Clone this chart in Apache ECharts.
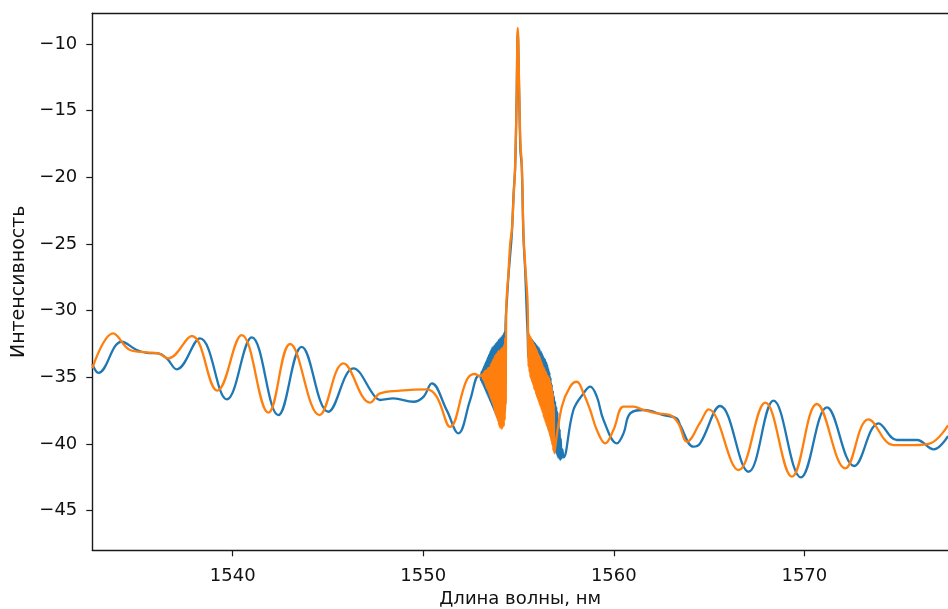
<!DOCTYPE html>
<html>
<head>
<meta charset="utf-8">
<script src="https://cdn.jsdelivr.net/npm/echarts@6/dist/echarts.min.js"></script>
<style>
html,body{margin:0;padding:0;background:#fff;}
#chart{width:948px;height:609px;}
</style>
</head>
<body>
<div id="chart"></div>
<script>
// ---- data ----
const xLabelText = 'Длина волны, нм';
const yLabelText = 'Интенсивность';
const xTicks = [1540, 1550, 1560, 1570];
const yTicks = [-45, -40, -35, -30, -25, -20, -15, -10];
const xRange = [1532.63, 1577.54];
const yRange = [-47.97, -7.70];

// blue trace: smooth parts [wavelength, intensity]
const blueSmooth = [
 [1532.63,-34.00],[1532.95,-34.66],[1534.17,-32.33],[1534.96,-32.95],[1535.49,-33.16],
 [1536.09,-33.20],[1536.54,-33.58],[1537.06,-34.40],[1538.28,-32.08],[1539.69,-36.65],
 [1541.00,-32.00],[1542.39,-37.83],[1543.62,-32.71],[1545.02,-37.58],[1546.33,-34.33],
 [1547.47,-36.46],[1547.73,-36.70],[1548.43,-36.58],[1549.48,-36.83],[1550.01,-36.46],
 [1550.45,-35.45],[1551.23,-37.46],[1551.84,-39.20],[1552.46,-36.70],[1552.90,-34.90],
 // central peak
 [1554.40,-29.0],[1554.47,-27.4],[1554.58,-25.5],[1554.65,-24.2],[1554.75,-21.0],
 [1554.82,-19.4],[1554.90,-14.0],[1554.96,-9.1],[1555.03,-13.5],[1555.10,-18.0],
 [1555.17,-19.2],[1555.26,-24.5],[1555.35,-27.0],[1555.44,-30.5],
 // after the peak
 [1557.88,-37.45],[1558.41,-36.20],[1558.76,-35.70],[1559.11,-36.45],[1559.46,-38.20],
 [1560.16,-39.95],[1560.51,-39.20],[1560.86,-37.70],[1561.56,-37.45],[1562.61,-37.83],
 [1563.31,-38.08],[1563.48,-38.58],[1564.18,-40.20],[1564.53,-39.95],[1565.58,-37.15],
 [1567.07,-42.08],[1568.38,-36.75],[1569.82,-42.50],[1571.19,-37.25],[1572.62,-41.65],
 [1573.90,-38.45],[1574.86,-39.70],[1575.91,-39.70],[1576.78,-40.40],[1577.54,-39.40]
];
// blue noisy band left of the peak
const blueNoiseLeft = [
 [1553.00,-34.9],[1553.03,-35.2],[1553.06,-34.6],[1553.09,-35.4],[1553.12,-34.4],
 [1553.15,-35.6],[1553.18,-34.2],[1553.21,-35.8],[1553.24,-34.0],[1553.27,-36.0],
 [1553.30,-33.8],[1553.33,-36.2],[1553.36,-33.6],[1553.39,-36.4],[1553.42,-33.4],
 [1553.45,-36.6],[1553.48,-33.2],[1553.51,-36.8],[1553.54,-33.0],[1553.57,-37.0],
 [1553.60,-32.8],[1553.63,-37.2],[1553.66,-32.7],[1553.69,-37.4],[1553.72,-32.6],
 [1553.75,-37.6],[1553.78,-32.5],[1553.81,-37.8],[1553.84,-32.4],[1553.87,-38.0],
 [1553.90,-32.3],[1553.93,-38.2],[1553.96,-32.2],[1553.99,-38.4],[1554.02,-32.1],
 [1554.05,-38.5],[1554.08,-32.0],[1554.11,-38.5],[1554.14,-31.9],[1554.17,-38.4],
 [1554.20,-31.8],[1554.23,-38.2],[1554.26,-31.6],[1554.29,-37.5],[1554.32,-31.0]
];
// blue noisy band right of the peak
const blueNoiseRight = [
 [1555.48,-31.8],[1555.51,-33.5],[1555.54,-31.9],[1555.57,-33.9],[1555.60,-32.0],
 [1555.63,-34.2],[1555.66,-32.1],[1555.69,-34.5],[1555.72,-32.2],[1555.75,-34.8],
 [1555.78,-32.3],[1555.81,-35.1],[1555.84,-32.4],[1555.87,-35.4],[1555.90,-32.5],
 [1555.93,-35.7],[1555.96,-32.6],[1555.99,-36.0],[1556.02,-32.7],[1556.05,-36.3],
 [1556.08,-32.8],[1556.11,-36.6],[1556.14,-33.0],[1556.17,-36.9],[1556.20,-33.1],
 [1556.23,-37.2],[1556.26,-33.3],[1556.29,-37.5],[1556.32,-33.5],[1556.35,-37.8],
 [1556.38,-33.6],[1556.41,-38.1],[1556.44,-33.8],[1556.47,-38.4],[1556.50,-34.0],
 [1556.53,-38.7],[1556.56,-34.3],[1556.59,-39.0],[1556.62,-34.6],[1556.65,-39.3],
 [1556.68,-35.0],[1556.71,-39.6],[1556.74,-35.5],[1556.77,-39.9],[1556.80,-36.0],
 [1556.83,-40.2],[1556.86,-36.4],[1556.89,-40.4],[1556.92,-36.8],[1556.95,-40.6],
 [1556.98,-37.2],[1557.01,-40.8],[1557.04,-37.6],[1557.07,-41.0],[1557.10,-38.2],
 [1557.13,-41.1],[1557.16,-38.9],[1557.19,-41.2],[1557.22,-39.6],[1557.25,-41.1],
 [1557.30,-40.4],[1557.36,-41.0]
];

// orange trace: smooth parts
const orangeSmooth = [
 [1532.63,-34.33],[1533.73,-31.70],[1534.61,-32.95],[1535.49,-33.12],[1536.09,-33.20],
 [1536.62,-33.58],[1537.85,-31.90],[1539.19,-36.00],[1540.47,-31.83],[1541.87,-37.65],
 [1543.01,-32.50],[1544.55,-37.83],[1545.81,-33.95],[1547.21,-36.90],[1547.73,-36.20],
 [1548.78,-36.00],[1550.19,-35.90],[1550.71,-36.46],[1551.41,-38.71],[1552.28,-35.20],
 [1552.70,-34.75],[1552.98,-34.90],
 // central peak
 [1554.36,-29.7],[1554.47,-27.2],[1554.56,-25.0],[1554.65,-23.95],[1554.74,-21.5],
 [1554.82,-19.2],[1554.89,-15.0],[1554.96,-8.8],[1555.03,-13.0],[1555.10,-17.5],
 [1555.17,-18.95],[1555.26,-24.2],[1555.36,-26.8],[1555.47,-29.2],
 // after the peak
 [1557.27,-37.20],[1557.71,-35.70],[1558.06,-35.33],[1558.41,-36.20],[1558.76,-37.45],
 [1559.11,-38.95],[1559.55,-39.95],[1559.98,-38.95],[1560.51,-37.20],[1561.03,-37.20],
 [1561.56,-37.45],[1562.26,-37.70],[1562.96,-37.83],[1563.39,-38.45],[1563.84,-39.83],
 [1564.53,-38.40],[1564.97,-37.40],[1566.55,-41.95],[1567.95,-36.90],[1569.35,-42.45],
 [1570.66,-37.00],[1572.15,-41.82],[1573.37,-38.15],[1574.68,-40.08],[1575.73,-40.08],
 [1576.61,-39.95],[1577.54,-38.60]
];
// orange noisy band left of the peak
const orangeNoiseLeft = [
 [1553.100,-34.8],[1553.125,-35.1],[1553.150,-34.7],[1553.175,-35.2],[1553.200,-34.6],
 [1553.225,-35.4],[1553.250,-34.5],[1553.275,-35.6],[1553.300,-34.5],[1553.325,-35.8],
 [1553.350,-34.4],[1553.375,-35.9],[1553.400,-34.3],[1553.425,-36.1],[1553.450,-34.3],
 [1553.475,-36.3],[1553.500,-34.2],[1553.525,-36.5],[1553.550,-34.0],[1553.575,-36.7],
 [1553.600,-33.9],[1553.625,-36.9],[1553.650,-33.7],[1553.675,-37.1],[1553.700,-33.6],
 [1553.725,-37.4],[1553.750,-33.4],[1553.775,-37.7],[1553.800,-33.3],[1553.825,-37.9],
 [1553.850,-33.2],[1553.875,-38.1],[1553.900,-33.1],[1553.925,-38.3],[1553.950,-33.0],
 [1553.975,-38.6],[1554.000,-33.0],[1554.025,-38.8],[1554.050,-32.9],[1554.075,-38.8],
 [1554.100,-32.8],[1554.125,-38.9],[1554.150,-32.8],[1554.175,-38.7],[1554.200,-32.7],
 [1554.225,-38.7],[1554.250,-32.5],[1554.275,-38.2],[1554.300,-32.0],[1554.325,-37.0]
];
// orange noisy band right of the peak
const orangeNoiseRight = [
 [1555.500,-31.6],[1555.525,-34.2],[1555.550,-31.7],[1555.575,-34.6],[1555.600,-31.9],
 [1555.625,-35.0],[1555.650,-32.0],[1555.675,-35.2],[1555.700,-32.2],[1555.725,-35.4],
 [1555.750,-32.3],[1555.775,-35.6],[1555.800,-32.5],[1555.825,-35.9],[1555.850,-32.6],
 [1555.875,-36.0],[1555.900,-32.8],[1555.925,-36.3],[1555.950,-32.9],[1555.975,-36.5],
 [1556.000,-33.1],[1556.025,-36.7],[1556.050,-33.3],[1556.075,-36.9],[1556.100,-33.4],
 [1556.125,-37.1],[1556.150,-33.6],[1556.175,-37.3],[1556.200,-33.8],[1556.225,-37.5],
 [1556.250,-34.0],[1556.275,-37.7],[1556.300,-34.2],[1556.325,-38.0],[1556.350,-34.3],
 [1556.375,-38.2],[1556.400,-34.5],[1556.425,-38.4],[1556.450,-34.6],[1556.475,-38.6],
 [1556.500,-34.8],[1556.525,-38.8],[1556.550,-34.9],[1556.575,-39.0],[1556.600,-35.0],
 [1556.625,-39.2],[1556.650,-35.2],[1556.675,-39.5],[1556.700,-35.5],[1556.725,-39.8],
 [1556.750,-35.8],[1556.775,-40.1],[1556.800,-36.2],[1556.825,-40.5],[1556.850,-37.0],
 [1556.875,-40.7]
];

// ---- chart ----
const merge = (...parts) => [].concat(...parts).sort((a, b) => a[0] - b[0]);
const minus = v => (v < 0 ? '\u2212' + Math.abs(v) : String(v));
const font = 'DejaVu Sans';
const axisColor = '#1a1a1a';
const textColor = '#111';

const chart = echarts.init(document.getElementById('chart'), null, {renderer: 'canvas'});
chart.setOption({
  animation: false,
  backgroundColor: '#fff',
  grid: {left: 92.3, top: 13.3, right: 0, bottom: 58.7, containLabel: false, outerBoundsMode: 'none'},
  xAxis: [{
    type: 'value', min: xRange[0], max: xRange[1], position: 'bottom',
    name: xLabelText, nameLocation: 'middle', nameGap: 40,
    nameTextStyle: {fontFamily: font, fontSize: 18, color: textColor},
    axisLine: {show: true, onZero: false, lineStyle: {color: axisColor, width: 1.4}},
    axisTick: {show: true, length: 6, inside: false, customValues: xTicks, lineStyle: {color: axisColor, width: 1.2}},
    axisLabel: {customValues: xTicks, margin: 17, fontFamily: font, fontSize: 18, color: textColor,
                formatter: v => String(v)},
    splitLine: {show: false}
  }, {
    type: 'value', min: xRange[0], max: xRange[1], position: 'top',
    axisLine: {show: true, onZero: false, lineStyle: {color: axisColor, width: 1.4}},
    axisTick: {show: false}, axisLabel: {show: false}, splitLine: {show: false}
  }],
  yAxis: {
    type: 'value', min: yRange[0], max: yRange[1],
    name: yLabelText, nameLocation: 'middle', nameGap: 61, nameRotate: 90,
    nameTextStyle: {fontFamily: font, fontSize: 19, color: textColor},
    axisLine: {show: true, onZero: false, lineStyle: {color: axisColor, width: 1.4}},
    axisTick: {show: true, length: 6, customValues: yTicks, lineStyle: {color: axisColor, width: 1.2}},
    axisLabel: {customValues: yTicks, margin: 15, fontFamily: font, fontSize: 18, color: textColor, formatter: minus},
    splitLine: {show: false}
  },
  series: [{
    type: 'line', xAxisIndex: 0, data: merge(blueSmooth, blueNoiseLeft, blueNoiseRight),
    showSymbol: false, smooth: 0.4, clip: true,
    lineStyle: {color: '#1f77b4', width: 2.3}
  }, {
    type: 'line', xAxisIndex: 0, data: merge(orangeSmooth, orangeNoiseLeft, orangeNoiseRight),
    showSymbol: false, smooth: 0.4, clip: true,
    lineStyle: {color: '#ff7f0e', width: 2.3}
  }]
});
</script>
</body>
</html>
